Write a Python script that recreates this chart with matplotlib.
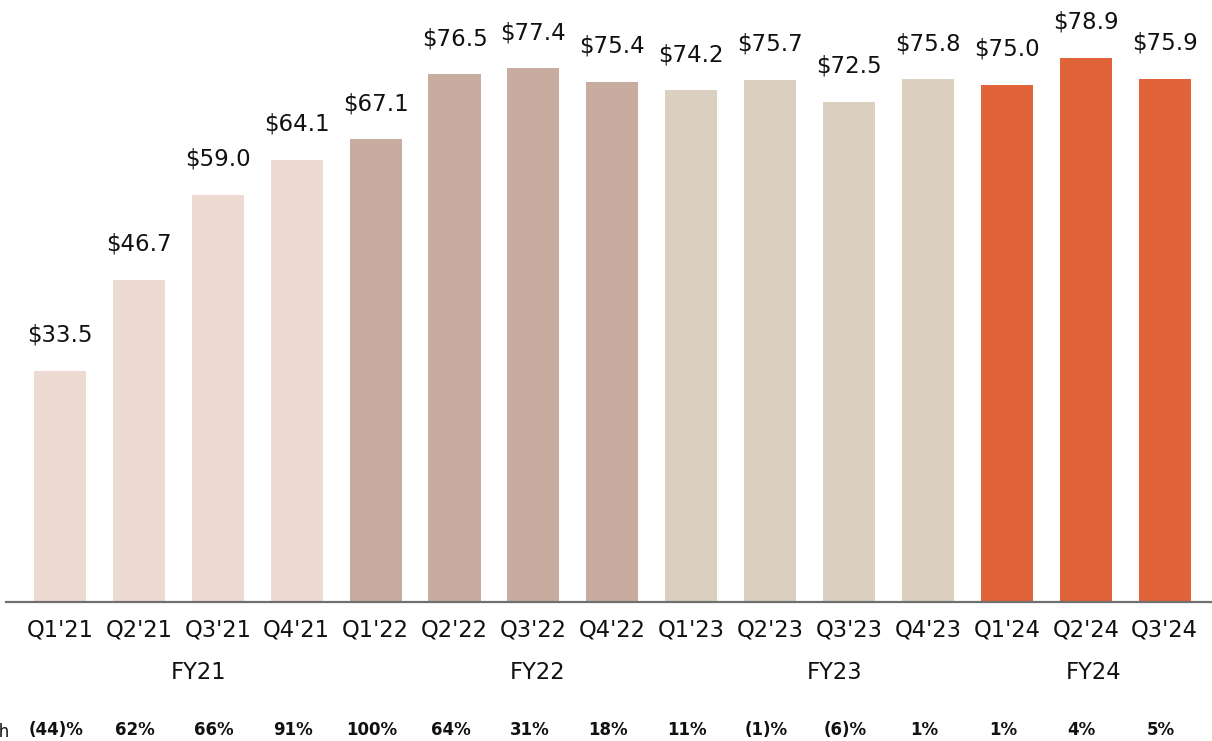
import matplotlib
matplotlib.use("Agg")
import matplotlib.pyplot as plt

# Quarterly values ($) and year-over-year growth
quarters = ["Q1'21", "Q2'21", "Q3'21", "Q4'21",
            "Q1'22", "Q2'22", "Q3'22", "Q4'22",
            "Q1'23", "Q2'23", "Q3'23", "Q4'23",
            "Q1'24", "Q2'24", "Q3'24"]
values = [33.5, 46.7, 59.0, 64.1,
          67.1, 76.5, 77.4, 75.4,
          74.2, 75.7, 72.5, 75.8,
          75.0, 78.9, 75.9]
growth = ["(44)%", "62%", "66%", "91%",
          "100%", "64%", "31%", "18%",
          "11%", "(1)%", "(6)%", "1%",
          "1%", "4%", "5%"]
fiscal_years = ["FY21", "FY22", "FY23", "FY24"]
year_of_quarter = [0, 0, 0, 0, 1, 1, 1, 1, 2, 2, 2, 2, 3, 3, 3]

year_colors = ["#eddad2", "#c8aca0", "#dbd0bf", "#e0633a"]
fy_label_x = [1.76, 6.05, 9.82, 13.1]

plt.rcParams["font.family"] = ["DejaVu Sans"]

fig = plt.figure(figsize=(12.12, 7.41), dpi=100)
ax = fig.add_axes([0.0, 0.1876, 1.0, 0.8124])

x = list(range(len(quarters)))
colors = [year_colors[y] for y in year_of_quarter]
ax.bar(x, values, width=0.66, color=colors, zorder=2)

for xi, v in zip(x, values):
    ax.annotate(f"${v:.1f}", (xi, v), xytext=(0, 21), textcoords="offset points",
                ha="center", va="baseline", fontsize=16.5, color="#111111")

ax.set_xlim(-0.76, 14.6)
ax.set_ylim(0, 87.3)

for side in ["top", "right", "left"]:
    ax.spines[side].set_visible(False)
ax.spines["bottom"].set_color("#6f6f6f")
ax.spines["bottom"].set_linewidth(1.6)
ax.spines["bottom"].set_bounds(-0.68, 14.6)
ax.set_yticks([])
ax.set_xticks(x)
ax.set_xticklabels(quarters, fontsize=16.3, color="#111111")
ax.tick_params(axis="x", length=0, pad=12)

# Fiscal year group labels
for fx, fy in zip(fy_label_x, fiscal_years):
    ax.text(fx, -0.117, fy, transform=ax.get_xaxis_transform(),
            ha="center", va="center", fontsize=16.3, color="#111111")

# Growth row
for xi, g in zip(x, growth):
    ax.text(xi - 0.05, -0.213, g, transform=ax.get_xaxis_transform(),
            ha="center", va="center", fontsize=12, fontweight="bold", color="#111111")
fig.text(9 / 1212, 1 - 731 / 741, "Y/Y Growth", ha="right", va="center",
         fontsize=12, color="#111111")

fig.savefig("out.png", dpi=100)
